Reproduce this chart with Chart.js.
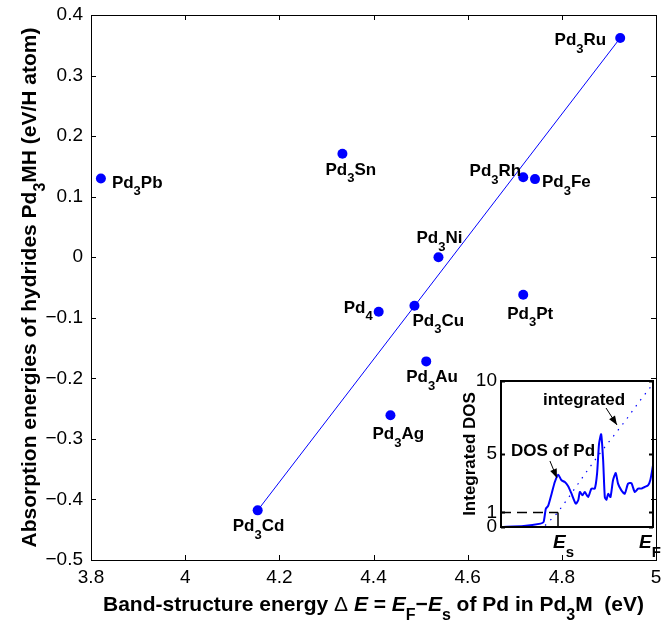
<!DOCTYPE html>
<html>
<head>
<meta charset="utf-8">
<script src="https://cdn.jsdelivr.net/npm/chart.js@4.4.0/dist/chart.umd.min.js"></script>
<style>
  html, body { margin: 0; padding: 0; background: #fff; }
  #wrap { position: relative; width: 661px; height: 625px; }
  #main { position: absolute; left: 0; top: 0; }
  #inset { position: absolute; left: 455px; top: 365px; }
</style>
</head>
<body>
<div id="wrap">
  <canvas id="main" width="661" height="625"></canvas>
  <canvas id="inset" width="206" height="200"></canvas>
</div>
<script>
// main scatter: band-structure energy vs absorption energy
const compounds = ["Pd3Pb", "Pd3Sn", "Pd3Rh", "Pd3Fe", "Pd3Ni", "Pd4", "Pd3Cu", "Pd3Pt", "Pd3Ru", "Pd3Au", "Pd3Ag", "Pd3Cd"];
const bandEnergy = [3.821, 4.334, 4.718, 4.743, 4.538, 4.411, 4.487, 4.718, 4.924, 4.512, 4.436, 4.154];
const absorption = [0.130, 0.171, 0.132, 0.129, 0.0, -0.09, -0.08, -0.062, 0.362, -0.172, -0.261, -0.418];
const fitX = [4.154, 4.924];
const fitY = [-0.418, 0.362];
const xTicks = [3.8, 4, 4.2, 4.4, 4.6, 4.8, 5];
const yTicks = [-0.5, -0.4, -0.3, -0.2, -0.1, 0, 0.1, 0.2, 0.3, 0.4];

// inset: DOS of Pd between E_s..E_F (x normalised 0..1)
const dosX = [0, 0.15, 0.26, 0.28, 0.295, 0.31, 0.333, 0.354, 0.376, 0.398, 0.42, 0.442, 0.464, 0.492, 0.508, 0.519, 0.536, 0.551, 0.573, 0.595, 0.617, 0.632, 0.645, 0.659, 0.672, 0.683, 0.694, 0.705, 0.72, 0.737, 0.755, 0.77, 0.792, 0.814, 0.836, 0.858, 0.88, 0.902, 0.923, 0.945, 0.967, 0.982, 1.0];
const dosY = [0, 0.07, 0.23, 0.34, 1.25, 1.44, 2.28, 3.08, 3.58, 3.2, 3.08, 2.79, 2.28, 1.6, 1.83, 2.4, 2.17, 2.4, 2.05, 2.63, 2.63, 3.65, 5.7, 6.35, 4.57, 2.05, 1.87, 2.28, 2.05, 3.2, 3.7, 2.97, 2.51, 2.28, 2.97, 3.0, 2.4, 2.63, 2.63, 2.74, 2.85, 3.2, 4.22];
const intX = [0.29, 0.37, 0.45, 0.55, 0.64, 0.73, 0.82, 0.91, 1.0];
const intY = [0.1, 0.95, 2.1, 3.6, 4.9, 6.1, 7.3, 8.6, 9.8];
const insetYTicks = [0, 1, 5, 10];
const esPos = 0.375;

const FONT = "'Liberation Sans', Arial, Helvetica, sans-serif";
const BLUE = "#0000ff";

// where each compound label sits relative to its dot: [dx, dy, align]
const labelPos = {
  Pd3Pb: [11, 9, "left"],
  Pd3Sn: [-17, 21, "left"],
  Pd3Rh: [-2, -1, "right"],
  Pd3Fe: [7, 8, "left"],
  Pd3Ni: [-22, -14, "left"],
  Pd4: [-6, 1, "right"],
  Pd3Cu: [-2, 20, "left"],
  Pd3Pt: [-16, 24, "left"],
  Pd3Ru: [-14, 7, "right"],
  Pd3Au: [-20, 21, "left"],
  Pd3Ag: [-18, 24, "left"],
  Pd3Cd: [-25, 21, "left"]
};

function fontFor(style, size) {
  const w = style.includes("b") ? "bold " : "";
  const i = style.includes("i") ? "italic " : "";
  return i + w + size + "px " + FONT;
}

// parts: [text, style, isSub]
function drawRich(ctx, parts, x, y, size, align) {
  const sub = Math.round(size * 0.78);
  let w = 0;
  parts.forEach(p => {
    ctx.font = fontFor(p[1], p[2] ? sub : size);
    w += ctx.measureText(p[0]).width;
  });
  let cx = align === "center" ? x - w / 2 : align === "right" ? x - w : x;
  ctx.textAlign = "left";
  ctx.textBaseline = "alphabetic";
  parts.forEach(p => {
    ctx.font = fontFor(p[1], p[2] ? sub : size);
    ctx.fillText(p[0], cx, y + (p[2] ? size * 0.45 : 0));
    cx += ctx.measureText(p[0]).width;
  });
}

function nameParts(name) {
  return name.split(/(\d+)/).filter(s => s).map(s => [s, "b", /\d/.test(s)]);
}

function fmt(v) {
  const r = Math.round(v * 10) / 10;
  return (r < 0 ? "\u2212" : "") + String(Math.abs(r));
}

const boxTicks = {
  id: "boxTicks",
  afterDraw(chart, args, opts) {
    const { ctx, chartArea: a, scales } = chart;
    const len = opts.len || 5;
    ctx.save();
    ctx.strokeStyle = "#000";
    ctx.lineWidth = opts.width || 1;
    ctx.beginPath();
    if (opts.xTicks) {
      scales.x.ticks.forEach(t => {
        const px = Math.round(scales.x.getPixelForValue(t.value)) + 0.5;
        ctx.moveTo(px, a.bottom); ctx.lineTo(px, a.bottom - len);
        ctx.moveTo(px, a.top); ctx.lineTo(px, a.top + len);
      });
    }
    scales.y.ticks.forEach(t => {
      const py = Math.round(scales.y.getPixelForValue(t.value)) + 0.5;
      ctx.moveTo(a.left, py); ctx.lineTo(a.left + len, py);
      ctx.moveTo(a.right, py); ctx.lineTo(a.right - len, py);
    });
    ctx.stroke();
    const o = (opts.width || 1) % 2 ? 0.5 : 0;
    ctx.strokeRect(Math.round(a.left) + o, Math.round(a.top) + o, Math.round(a.right - a.left), Math.round(a.bottom - a.top));
    ctx.restore();
  }
};

const pointLabels = {
  id: "pointLabels",
  afterDatasetsDraw(chart) {
    const { ctx, scales } = chart;
    ctx.save();
    ctx.fillStyle = "#000";
    compounds.forEach((name, i) => {
      const px = scales.x.getPixelForValue(bandEnergy[i]);
      const py = scales.y.getPixelForValue(absorption[i]);
      const [dx, dy, align] = labelPos[name];
      drawRich(ctx, nameParts(name), px + dx, py + dy, 17, align);
    });
    ctx.restore();
  }
};

const axisTitles = {
  id: "axisTitles",
  afterDraw(chart) {
    const { ctx, chartArea: a } = chart;
    ctx.save();
    ctx.fillStyle = "#000";
    const xParts = [
      ["Band-structure energy ", "b"], ["\u0394 ", "n"], ["E", "bi"], [" = ", "b"],
      ["E", "bi"], ["F", "b", true], ["\u2212", "b"], ["E", "bi"], ["s", "b", true],
      [" of Pd in Pd", "b"], ["3", "b", true], ["M  (eV)", "b"]
    ];
    drawRich(ctx, xParts, (a.left + a.right) / 2, 611, 21, "center");
    const yParts = [
      ["Absorption energies of hydrides Pd", "b"], ["3", "b", true], ["MH (eV/H atom)", "b"]
    ];
    ctx.translate(36, (a.top + a.bottom) / 2);
    ctx.rotate(-Math.PI / 2);
    drawRich(ctx, yParts, 0, 0, 21, "center");
    ctx.restore();
  }
};

const tickFont = { family: FONT, size: 19 };

new Chart(document.getElementById("main"), {
  type: "scatter",
  data: {
    datasets: [
      {
        data: fitX.map((x, i) => ({ x: x, y: fitY[i] })),
        showLine: true,
        borderColor: BLUE,
        borderWidth: 1,
        pointRadius: 0
      },
      {
        data: bandEnergy.map((x, i) => ({ x: x, y: absorption[i] })),
        pointRadius: 5,
        backgroundColor: BLUE,
        borderWidth: 0
      }
    ]
  },
  options: {
    responsive: false,
    animation: false,
    devicePixelRatio: 1,
    layout: { padding: { top: 15, right: 4, left: 0, bottom: 0 } },
    plugins: {
      legend: { display: false },
      tooltip: { enabled: false },
      boxTicks: { len: 5, width: 1, xTicks: true }
    },
    scales: {
      x: {
        type: "linear",
        min: 3.8,
        max: 5,
        afterBuildTicks: s => { s.ticks = xTicks.map(v => ({ value: v })); },
        afterFit: s => { s.height = 65; s.paddingLeft = 0; s.paddingRight = 0; },
        grid: { display: false, drawTicks: false },
        border: { display: false },
        ticks: { color: "#000", font: tickFont, padding: 6, maxRotation: 0, autoSkip: false, callback: v => fmt(v) }
      },
      y: {
        type: "linear",
        min: -0.5,
        max: 0.4,
        afterBuildTicks: s => { s.ticks = yTicks.map(v => ({ value: v })); },
        afterFit: s => { s.width = 91; s.paddingTop = 0; s.paddingBottom = 0; },
        grid: { display: false, drawTicks: false },
        border: { display: false },
        ticks: { color: "#000", font: tickFont, padding: 8, autoSkip: false, callback: v => fmt(v) }
      }
    }
  },
  plugins: [boxTicks, pointLabels, axisTitles]
});

// inset annotations, in inset data units
const insetNotes = {
  texts: [
    { t: "integrated", x: 0.276, y: 8.36 },
    { t: "DOS of Pd", x: 0.066, y: 4.86 }
  ],
  arrows: [
    { from: [0.691, 8.15], to: [0.763, 6.99] },
    { from: [0.322, 4.52], to: [0.368, 3.36] }
  ]
};

const insetDecor = {
  id: "insetDecor",
  afterDraw(chart) {
    const { ctx, chartArea: a, scales } = chart;
    const sx = scales.x, sy = scales.y;
    ctx.save();
    ctx.fillStyle = "#000";
    ctx.strokeStyle = "#000";
    // notes
    insetNotes.texts.forEach(n => {
      ctx.font = "bold 17px " + FONT;
      ctx.textAlign = "left";
      ctx.textBaseline = "alphabetic";
      ctx.fillText(n.t, sx.getPixelForValue(n.x), sy.getPixelForValue(n.y));
    });
    insetNotes.arrows.forEach(ar => {
      const x0 = sx.getPixelForValue(ar.from[0]), y0 = sy.getPixelForValue(ar.from[1]);
      const x1 = sx.getPixelForValue(ar.to[0]), y1 = sy.getPixelForValue(ar.to[1]);
      const ang = Math.atan2(y1 - y0, x1 - x0);
      ctx.lineWidth = 1;
      ctx.beginPath();
      ctx.moveTo(x0, y0); ctx.lineTo(x1, y1);
      ctx.stroke();
      ctx.beginPath();
      ctx.moveTo(x1, y1);
      ctx.lineTo(x1 - 9 * Math.cos(ang) + 3.5 * Math.sin(ang), y1 - 9 * Math.sin(ang) - 3.5 * Math.cos(ang));
      ctx.lineTo(x1 - 9 * Math.cos(ang) - 3.5 * Math.sin(ang), y1 - 9 * Math.sin(ang) + 3.5 * Math.cos(ang));
      ctx.closePath();
      ctx.fill();
    });
    // E_s, E_F labels
    const base = a.bottom + 21;
    const es = sx.getPixelForValue(esPos);
    const ef = sx.getPixelForValue(1);
    drawRich(ctx, [["E", "bi"], ["s", "b", true]], es - 5, base, 19, "left");
    drawRich(ctx, [["E", "bi"], ["F", "b", true]], ef - 14, base, 19, "left");
    // y title
    ctx.translate(20, (a.top + a.bottom) / 2);
    ctx.rotate(-Math.PI / 2);
    ctx.font = "bold 17px " + FONT;
    ctx.textAlign = "center";
    ctx.fillText("Integrated DOS", 0, 0);
    ctx.restore();
  }
};

new Chart(document.getElementById("inset"), {
  type: "scatter",
  data: {
    datasets: [
      {
        data: [{ x: 0, y: 1 }, { x: esPos, y: 1 }],
        showLine: true, borderColor: "#000", borderWidth: 1.5, borderDash: [10, 6], pointRadius: 0
      },
      {
        data: [{ x: esPos, y: 0 }, { x: esPos, y: 1 }],
        showLine: true, borderColor: "#000", borderWidth: 1.5, pointRadius: 0
      },
      {
        data: intX.map((x, i) => ({ x: x, y: intY[i] })),
        showLine: true, borderColor: BLUE, borderWidth: 1.2, borderDash: [1.5, 6], pointRadius: 0
      },
      {
        data: dosX.map((x, i) => ({ x: x, y: dosY[i] })),
        showLine: true, borderColor: BLUE, borderWidth: 2, pointRadius: 0, tension: 0.2
      }
    ]
  },
  options: {
    responsive: false,
    animation: false,
    devicePixelRatio: 1,
    layout: { padding: { top: 16, right: 8, left: 0, bottom: 0 } },
    plugins: {
      legend: { display: false },
      tooltip: { enabled: false },
      boxTicks: { len: 4, width: 2, xTicks: false }
    },
    scales: {
      x: {
        type: "linear",
        min: 0,
        max: 1,
        afterFit: s => { s.height = 38; s.paddingLeft = 0; s.paddingRight = 0; },
        grid: { display: false, drawTicks: false },
        border: { display: false },
        ticks: { display: false }
      },
      y: {
        type: "linear",
        min: 0,
        max: 10,
        afterBuildTicks: s => { s.ticks = insetYTicks.map(v => ({ value: v })); },
        afterFit: s => { s.width = 46; s.paddingTop = 0; s.paddingBottom = 0; },
        grid: { display: false, drawTicks: false },
        border: { display: false },
        ticks: { color: "#000", font: { family: FONT, size: 19 }, padding: 4, autoSkip: false }
      }
    }
  },
  plugins: [boxTicks, insetDecor]
});
</script>
</body>
</html>
